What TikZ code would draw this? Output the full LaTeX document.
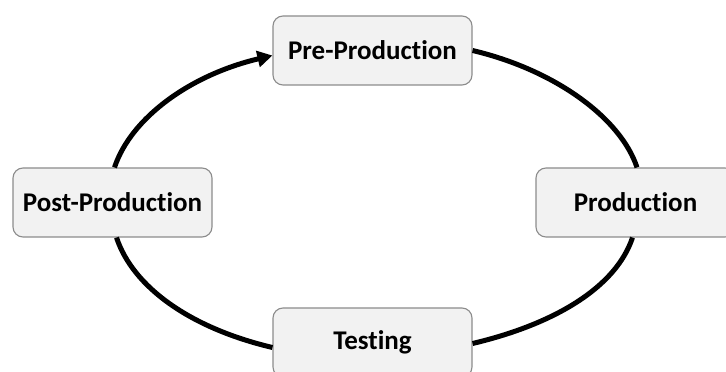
\documentclass[tikz,border=0pt]{standalone}
\usepackage{fontspec}
\setmainfont{Carlito}[Ligatures=NoCommon]
\usetikzlibrary{arrows.meta}
\definecolor{boxfill}{HTML}{F2F2F2}
\definecolor{boxline}{HTML}{8C8C8C}
\tikzset{
  stagebox/.style={draw=boxline, line width=1.1pt, fill=boxfill, rounded corners=10pt,
    minimum width=199pt, minimum height=69pt, inner sep=0pt,
    font=\fontsize{27}{30}\selectfont\bfseries, text=black},
  flow/.style={line width=5pt, black},
}
\begin{document}
\begin{tikzpicture}[x=1pt, y=1pt]
  \useasboundingbox (0,0) rectangle (726,372);
  \fill[white] (0,0) rectangle (726,372);

  % the four stages of the cycle
  \node[stagebox] (pre)  at (372.5,321.5) {Pre-Production};
  \node[stagebox] (post) at (112.5,169.5) {Post-Production};
  \node[stagebox] (prod) at (635.5,169.5) {Production};
  \node[stagebox] (test) at (372.5,29.5)  {Testing};

  % elliptical connectors between the stages
  \draw[flow, -{Triangle[length=15pt,width=16pt]}]
    ([xshift=2pt]post.north) .. controls +(16.5,49.7) and +(-82.1,-19.4) .. ([yshift=-5pt]pre.west);
  \draw[flow]
    ([yshift=0pt]pre.east) .. controls +(82.1,-19.4) and +(-16.5,49.7) .. ([xshift=1.5pt]prod.north);
  \draw[flow]
    ([xshift=-3pt]prod.south) .. controls +(-16.5,-49.7) and +(82.1,19.4) .. ([yshift=-1pt]test.east);
  \draw[flow]
    ([yshift=-5pt]test.west) .. controls +(-82.1,19.4) and +(16.5,-49.7) .. ([xshift=4pt]post.south);
\end{tikzpicture}
\end{document}
